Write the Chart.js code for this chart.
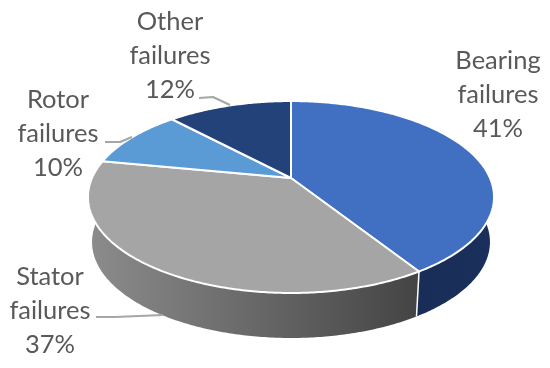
<!DOCTYPE html>
<html>
<head>
<meta charset="utf-8">
<style>
  html, body { margin: 0; padding: 0; background: #fff; }
  canvas { display: block; }
</style>
<script src="https://cdn.jsdelivr.net/npm/chart.js@4"></script>
</head>
<body>
<canvas id="myChart" width="550" height="368"></canvas>
<script>
// pie data
const categories = ['Bearing failures', 'Stator failures', 'Rotor failures', 'Other failures'];
const shares = [41, 37, 10, 12];
const topColors = ['#4170c2', '#a5a5a5', '#5b9bd5', '#234279'];
const wallColors = [['#15294f', '#1a305c'], ['#8c8c8c', '#444444'], ['#3a6ea0', '#3a6ea0'], ['#152a50', '#152a50']];

// where the label lines sit, one entry per category
const labelCenters = [[498, 61], [50, 277], [58, 100], [170, 22]];
const labelLeaders = [
  [],
  [[96, 317], [115, 317], [163, 315]],
  [[105, 142], [120, 142], [132, 137]],
  [[199, 98], [213, 97], [230, 105]]
];

// perspective of the tilted disc
const apexX = 291, apexY = 178;
const spreadX = 199, spreadY = 92.2, tilt = -0.198;
const depth = 45, bottomShrink = 0.98;

function tilted(c, s) {
  const w = 1 + tilt * s;
  return { x: apexX + spreadX * c / w, y: apexY + spreadY * s / w };
}

function bottomOf(p) {
  return { x: apexX + (p.x - apexX) * bottomShrink, y: p.y + depth };
}

function rimPoints(arc) {
  const props = arc.getProps(['startAngle', 'endAngle']);
  const pts = [];
  const steps = Math.max(2, Math.ceil((props.endAngle - props.startAngle) * 90));
  for (let i = 0; i <= steps; i++) {
    const a = props.startAngle + (props.endAngle - props.startAngle) * i / steps;
    pts.push(tilted(Math.cos(a), Math.sin(a)));
  }
  return pts;
}

// the library keeps the angles, this draws them on the tilted disc
const tiltedPie = {
  id: 'tiltedPie',
  beforeDatasetsDraw(chart) {
    const ctx = chart.ctx;
    const arcs = chart.getDatasetMeta(0).data;

    // side wall first, the top faces cover whatever is at the back
    arcs.forEach((arc, i) => {
      const rim = rimPoints(arc);
      const low = rim.map(bottomOf).reverse();
      const xs = rim.map((p) => p.x);
      const grad = ctx.createLinearGradient(Math.min(...xs), 0, Math.max(...xs), 0);
      grad.addColorStop(0, wallColors[i][0]);
      grad.addColorStop(1, wallColors[i][1]);
      ctx.beginPath();
      rim.concat(low).forEach((p, n) => n ? ctx.lineTo(p.x, p.y) : ctx.moveTo(p.x, p.y));
      ctx.closePath();
      ctx.fillStyle = grad;
      ctx.fill();
    });

    // white seam between the two front walls
    const seam = rimPoints(arcs[1])[0];
    const seamLow = bottomOf(seam);
    ctx.beginPath();
    ctx.moveTo(seam.x, seam.y);
    ctx.lineTo(seamLow.x, seamLow.y);
    ctx.strokeStyle = '#ffffff';
    ctx.lineWidth = 1.5;
    ctx.stroke();

    // top faces
    arcs.forEach((arc) => {
      ctx.beginPath();
      ctx.moveTo(apexX, apexY);
      rimPoints(arc).forEach((p) => ctx.lineTo(p.x, p.y));
      ctx.closePath();
      ctx.fillStyle = arc.options.backgroundColor;
      ctx.fill();
      ctx.strokeStyle = arc.options.borderColor;
      ctx.lineWidth = arc.options.borderWidth;
      ctx.lineJoin = 'round';
      ctx.stroke();
    });
    return false;
  },
  afterDraw(chart) {
    const ctx = chart.ctx;
    ctx.strokeStyle = '#a6a6a6';
    ctx.lineWidth = 2;
    labelLeaders.forEach((line) => {
      if (!line.length) return;
      ctx.beginPath();
      line.forEach((p, n) => n ? ctx.lineTo(p[0], p[1]) : ctx.moveTo(p[0], p[1]));
      ctx.stroke();
    });

    ctx.font = '25.5px Lato';
    ctx.fillStyle = '#595959';
    ctx.textAlign = 'center';
    ctx.textBaseline = 'middle';
    categories.forEach((name, i) => {
      const words = name.split(' ');
      const lines = [words[0], words[1], shares[i] + '%'];
      lines.forEach((t, n) => ctx.fillText(t, labelCenters[i][0], labelCenters[i][1] + n * 34));
    });
  }
};

const ctx = document.getElementById('myChart').getContext('2d');
const myChart = new Chart(ctx, {
  type: 'pie',
  data: {
    labels: categories,
    datasets: [
      {
        data: shares,
        backgroundColor: topColors,
        borderColor: '#ffffff',
        borderWidth: 2
      }
    ]
  },
  options: {
    responsive: false,
    animation: false,
    plugins: {
      legend: { display: false },
      tooltip: { enabled: false }
    }
  },
  plugins: [tiltedPie]
});
</script>
</body>
</html>
